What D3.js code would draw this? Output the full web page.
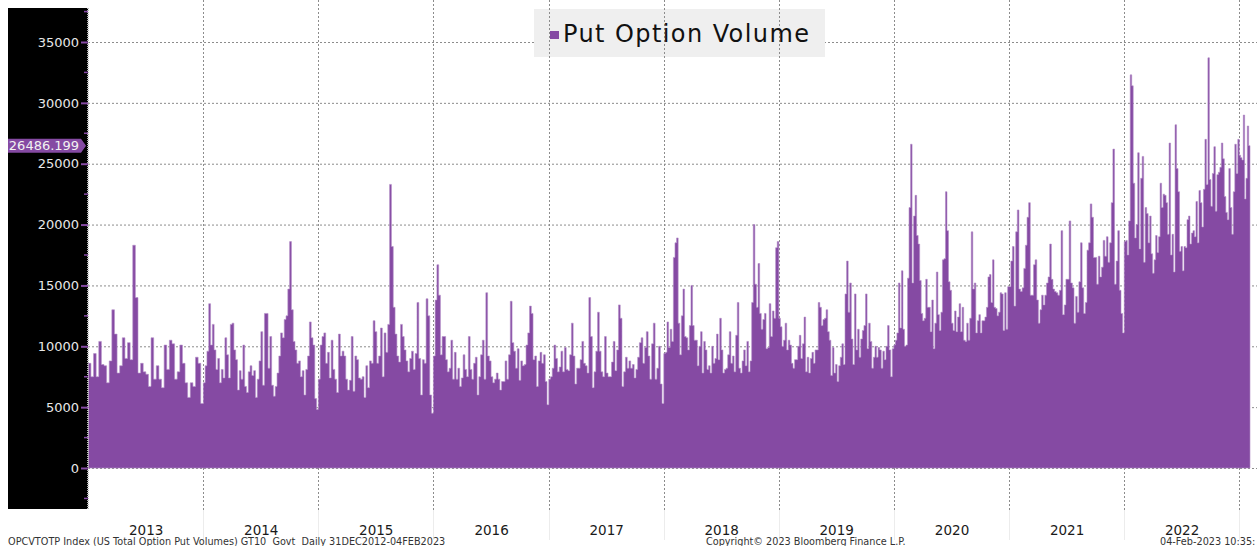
<!DOCTYPE html>
<html>
<head>
<meta charset="utf-8">
<script src="https://cdn.jsdelivr.net/npm/d3@7"></script>
<style>
  html, body { margin: 0; padding: 0; background: #fff; }
  svg { display: block; font-family: "DejaVu Sans", Verdana, sans-serif; }
</style>
</head>
<body>
<svg id="chart" width="1257" height="546"></svg>
<script>
// Put option volume (roughly one value per week), per year
const vol2013 = [8600,7500,9400,7500,10400,8500,8400,7000,8800,13000,11000,7800,8400,10700,9000,10300,8900,18300,14000,7800,8600,7900,7700,6700,10700,7300,8400,7300,6600,10100,8100,10500,10200,7300,7900,10100,8600,7000,5800,7000,6700,9100,8600,5300];
const vol2014 = [7000,8400,9600,13500,10100,11800,9700,8100,9000,7000,8100,7400,10700,9300,7400,11800,11900,9700,8900,6400,8000,7300,10100,6700,6200,7900,8400,7600,8000,5800,7300,8800,11200,6800,12700,12700,8200,10800,6800,5900,6700,7800,9200,11100,10700,12200,12500,14700,18600,13000,10400,9700,8600,8800,7500,8000,6000,8100,9200,12000,10700,10100,5700,4800];
const vol2015 = [7300,10100,10800,11100,8600,9500,7400,10500,8100,7300,6200,11000,9200,9600,9200,7300,6400,7200,10800,6300,9200,8900,7400,7300,7500,5800,8400,6600,8800,8600,12100,11200,8600,9200,11500,7500,11100,9500,11800,23300,18200,13200,11000,9200,8700,11800,10800,9700,8800,7900,9000,9600,8100,9400,13600,9000,6000,8900,8600,13900,12500,6000,4500];
const vol2016 = [9200,13800,16700,14200,9300,10800,10800,8900,7900,8200,10500,7300,9500,7300,8200,6700,7400,9300,8100,7500,10800,8100,7300,8600,9100,6000,7500,9300,10500,7300,14400,9200,8800,7500,7000,7300,7800,7300,6400,7100,7100,8800,7300,9300,13700,10300,9600,8200,9800,7200,8800,8400,8500,10100,11100,13300,12700,8900,9200,6700,8800,9500,8600,9300,7100,5200];
const vol2017 = [7300,7500,8200,10100,9000,7900,8300,9600,7900,9900,8100,8000,9300,11900,9200,6900,8200,8200,8900,10400,8600,8400,7800,14000,10800,6600,7900,9600,12800,9600,7900,7500,10800,7800,7500,7500,8700,10400,8000,9700,13400,12300,6700,7900,9100,8200,8800,8200,8500,7400,8100,9100,10300,10700,8600,9900,11200,9200,7300,10200,11900,7300,8200,10000,6900,5300];
const vol2018 = [9400,9500,12000,9900,11400,10400,17300,18500,18900,11900,9300,12500,14700,10800,10700,9700,11700,15000,11700,10500,10500,8400,10000,11200,7800,10400,9700,8100,8400,7800,10000,8600,9000,11000,8900,12300,9700,7800,8100,8200,9300,11200,8600,9200,7900,10900,13600,8200,7800,8800,9700,8400,10400,7900,8800,13600,20000,15100,13200,16800,12700,11400,12200,12700,9800,9900,13500,10800,12900,12300,18100,18600];
const vol2019 = [12300,11600,10000,10500,11900,9700,10500,10100,8600,8200,8900,8900,10000,10900,9000,10200,12400,7900,9100,7800,9000,9500,8600,9700,9700,13600,13200,11700,12200,12300,13000,11200,10500,7600,9900,7800,8500,7100,8400,9100,10200,8500,14300,17000,12800,15200,10600,8500,14300,9700,11400,9100,10600,11300,11700,14300,9800,11900,10400,8200,9100,10000,9100,9900,9700,8200,9600,8900,10000,11700,9700,7500,9800];
const vol2020 = [10100,10500,11100,15200,11500,16200,11400,10000,10100,15600,21400,26600,15200,20700,22400,19100,18400,15400,12700,12100,12300,15500,13200,13200,11200,13800,9800,11900,16100,12600,11300,12800,17100,17200,22700,19500,15300,14600,11900,11300,12900,11200,12400,13500,11200,13200,10500,10400,11900,10500,12300,19400,14700,15200,11100,12100,12600,11100,12100,12100,12400,13200,15700,15900,13600,17100,13200,13100,12500,12800,14400,14300,11300,14400,11400,14900];
const vol2021 = [14900,17000,18200,13300,19400,21200,14700,14500,14800,16400,18300,20600,21800,14200,14200,16700,17100,13800,11900,13000,14200,13400,14200,15200,15700,18400,15500,14700,14500,14400,14200,14600,19500,12600,13400,15500,15500,20300,15200,14800,11900,14100,12800,15300,18500,14800,12700,13600,17900,18500,21700,20600,17300,17300,15100,17400,15700,16500,18700,17400,19000,16900,18500,21800,26200,15100,17000,19500,14600,12700,11100];
const vol2022 = [18600,18700,17500,20300,32300,31400,23400,18900,20000,25900,18000,23800,25600,16900,21400,20900,18500,20700,17600,16000,17100,19100,17700,19000,23400,21400,22500,22400,21800,19200,26700,17500,19200,16100,28200,24600,22700,17800,18200,16200,18200,18100,20400,20700,18400,19300,19500,19000,21900,18500,22800,21800,19800,22900,27000,23300,33700,23700,21500,24200,26400,21100,24100,24300,24700,26700,25400,22300,21000,20400,24600,21400,19200,22700,26600,24200,27000];
const vol2023 = [25700,25500,25300,29000,22100,23800,28100,26486.199];

const years = [2013,2014,2015,2016,2017,2018,2019,2020,2021,2022,2023];
const yearVols = [vol2013,vol2014,vol2015,vol2016,vol2017,vol2018,vol2019,vol2020,vol2021,vol2022,vol2023];
const yTicks = [0,5000,10000,15000,20000,25000,30000,35000];
const seriesName = "Put Option Volume";
const footLeft = "OPCVTOTP Index (US Total Option Put Volumes) GT10\u00A0 Govt\u00A0 Daily 31DEC2012-04FEB2023";
const footMid = "Copyright\u00A9 2023 Bloomberg Finance L.P.";
const footRight = "04-Feb-2023 10:35:";

const purple = "#854aa3";
const startDate = new Date(2012, 11, 31), endDate = new Date(2023, 1, 4);

// spread each year's values evenly over that year
const data = [];
years.forEach((yr, k) => {
  const vals = yearVols[k];
  const a = new Date(yr, 0, 1);
  const b = yr === 2023 ? endDate : new Date(yr + 1, 0, 1);
  const step = (b - a) / vals.length;
  vals.forEach((v, i) => data.push({ d: new Date(+a + i * step), v: v }));
});
const lastVal = data[data.length - 1].v;
const stepData = data.concat([{ d: endDate, v: lastVal }]);

const svg = d3.select("#chart");

const x = d3.scaleTime().domain([startDate, endDate]).range([88, 1250]);
const y = d3.scaleLinear().domain([0, 35000]).range([468, 42]);

// horizontal grid
svg.append("g").selectAll("line")
  .data(yTicks).enter().append("line")
  .attr("x1", 88).attr("x2", 1257)
  .attr("y1", d => y(d) + 0.5).attr("y2", d => y(d) + 0.5)
  .attr("stroke", "#8c8c8c").attr("stroke-dasharray", "2,2");

// legend box (under the vertical grid)
svg.append("rect")
  .attr("x", 534).attr("y", 9).attr("width", 291).attr("height", 48)
  .attr("fill", "#efefef");

// vertical grid at year starts
const yearStarts = years.slice(1).map(yr => new Date(yr, 0, 1));
svg.append("g").selectAll("line")
  .data(yearStarts).enter().append("line")
  .attr("x1", d => Math.round(x(d)) + 0.5).attr("x2", d => Math.round(x(d)) + 0.5)
  .attr("y1", 0).attr("y2", 510)
  .attr("stroke", "#8c8c8c").attr("stroke-dasharray", "2,2");
svg.append("g").selectAll("line")
  .data(yearStarts).enter().append("line")
  .attr("x1", d => Math.round(x(d)) + 0.5).attr("x2", d => Math.round(x(d)) + 0.5)
  .attr("y1", 510).attr("y2", 540)
  .attr("stroke", "#ececec");

// bars, drawn as one stepped area so neighbouring days leave no seams
const area = d3.area()
  .curve(d3.curveStepAfter)
  .x(d => x(d.d))
  .y0(y(0))
  .y1(d => y(d.v));
svg.append("path")
  .datum(stepData)
  .attr("d", area)
  .attr("fill", purple)
  .attr("stroke", "#b48fc8").attr("stroke-width", 0.6);

// legend content
svg.append("rect").attr("x", 550).attr("y", 31).attr("width", 9).attr("height", 8).attr("fill", purple);
svg.append("text").attr("x", 563).attr("y", 42)
  .attr("font-size", 24).attr("fill", "#111")
  .attr("textLength", 246).attr("lengthAdjust", "spacing")
  .text(seriesName);

// black y axis panel
svg.append("rect").attr("x", 8).attr("y", 8).attr("width", 80).attr("height", 501).attr("fill", "#000");
svg.append("line").attr("x1", 88).attr("x2", 88).attr("y1", 8).attr("y2", 509)
  .attr("stroke", "#b8b8b8").attr("stroke-width", 2).attr("stroke-dasharray", "1,1");

// minor ticks
svg.append("g").selectAll("line")
  .data(d3.range(-2500, 37600, 2500).filter(v => v % 5000 !== 0)).enter().append("line")
  .attr("x1", 84).attr("x2", 88)
  .attr("y1", d => y(d)).attr("y2", d => y(d))
  .attr("stroke", purple).attr("stroke-width", 1.5);

const yAxis = svg.append("g")
  .attr("transform", "translate(88,0)")
  .call(d3.axisLeft(y).tickValues(yTicks).tickSize(7).tickPadding(2).tickFormat(d3.format("d")));
yAxis.select(".domain").remove();
yAxis.selectAll(".tick line").attr("stroke", purple).attr("stroke-width", 2);
yAxis.selectAll(".tick text")
  .attr("fill", "#e8e8e8").attr("font-size", 13)
  .attr("font-family", "DejaVu Sans, Verdana, sans-serif");

// last value tag
const ly = y(lastVal);
svg.append("path")
  .attr("d", `M8,${ly - 7}L81,${ly - 7}L86,${ly}L81,${ly + 7}L8,${ly + 7}Z`)
  .attr("fill", purple);
svg.append("text").attr("x", 44).attr("y", ly + 4.5)
  .attr("text-anchor", "middle").attr("font-size", 13).attr("fill", "#f2f2f2")
  .text(d3.format(".3f")(lastVal));

// year labels
const xAxis = svg.append("g")
  .attr("transform", "translate(0,522)")
  .call(d3.axisBottom(x)
    .tickValues(years.slice(0, 10).map(yr => new Date(yr, 6, 2)))
    .tickSize(0).tickPadding(3)
    .tickFormat(d3.timeFormat("%Y")));
xAxis.select(".domain").remove();
xAxis.selectAll(".tick text")
  .attr("fill", "#1a1a1a").attr("font-size", 13.5)
  .attr("font-family", "DejaVu Sans, Verdana, sans-serif");

// footer
const foot = svg.append("g").attr("font-size", 9.7).attr("fill", "#333");
foot.append("text").attr("x", 8).attr("y", 545).text(footLeft);
foot.append("text").attr("x", 706).attr("y", 545).text(footMid);
foot.append("text").attr("x", 1160).attr("y", 545).text(footRight);
</script>
</body>
</html>
